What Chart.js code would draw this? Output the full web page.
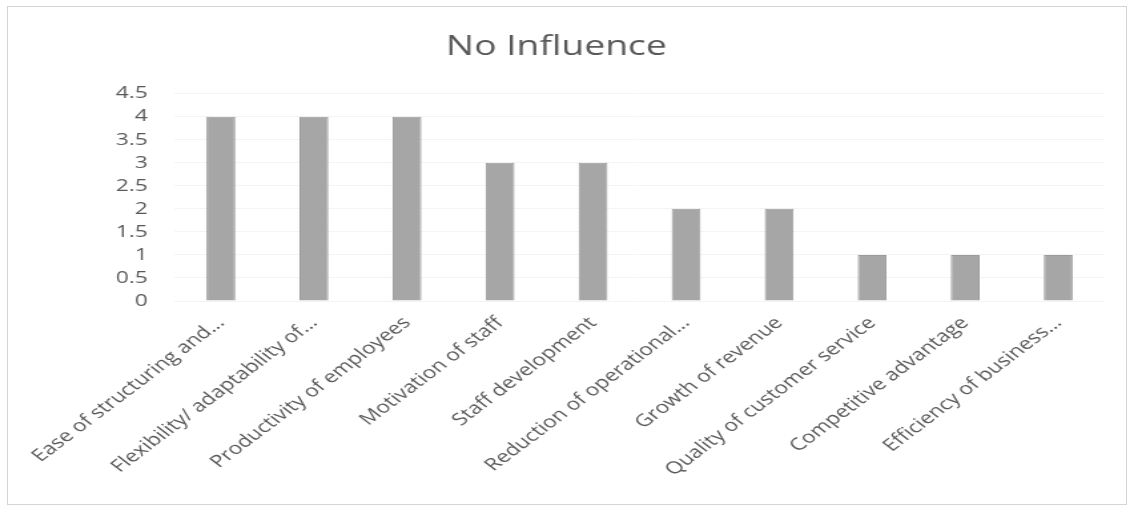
<!DOCTYPE html>
<html>
<head>
<meta charset="utf-8">
<script src="https://cdn.jsdelivr.net/npm/chart.js@4/dist/chart.umd.min.js"></script>
<style>
	body { margin: 0; background: #fff; }
	#wrap { position: absolute; left: 7px; top: 6px; width: 1120px; height: 499px; border: 1px solid #d4d4d4; box-sizing: border-box; overflow: hidden; background: #fff; }
	#box { position: absolute; left: 0; top: 0; width: 840px; height: 497px; transform: scaleX(1.331); transform-origin: 0 0; }
</style>
</head>
<body>
<div id="wrap"><div id="box"><canvas id="noInfChart"></canvas></div></div>
<script>
var categories = ["Ease of structuring and...", "Flexibility/ adaptability of...", "Productivity of employees", "Motivation of staff", "Staff development", "Reduction of operational...", "Growth of revenue", "Quality of customer service", "Competitive advantage", "Efficiency of business..."];
var counts = [4, 4, 4, 3, 3, 2, 2, 1, 1, 1];
var yTicks = [0, 0.5, 1, 1.5, 2, 2.5, 3, 3.5, 4, 4.5];

var txt = "#595959";

var conf_bar = {
	type: 'bar',
	data: {
		labels: categories,
		datasets: [{
			label: "No Influence",
			data: counts,
			backgroundColor: "#a6a6a6",
			borderColor: "#9a9a9a",
			borderWidth: 1,
			barPercentage: 0.31,
			categoryPercentage: 1
		}]
	},
	options: {
		responsive: true,
		maintainAspectRatio: false,
		animation: false,
		layout: { padding: { left: 0, right: 16, top: 0, bottom: 0 } },
		plugins: {
			legend: { display: false },
			tooltip: { enabled: false },
			title: {
				display: true,
				text: "No Influence",
				color: txt,
				font: { family: "Open Sans", size: 28, weight: 'normal' },
				padding: { top: 23, bottom: 30 }
			}
		},
		scales: {
			x: {
				grid: { display: false },
				border: { display: false },
				ticks: {
					color: txt,
					font: { family: "Open Sans", size: 17 },
					minRotation: 45,
					maxRotation: 45,
					autoSkip: false,
					padding: 4
				},
				afterFit: function(scale){ scale.height = 203; }
			},
			y: {
				min: yTicks[0],
				max: yTicks[yTicks.length - 1],
				grid: { color: "#f4f4f4", drawTicks: false },
				border: { display: false },
				ticks: {
					stepSize: yTicks[1] - yTicks[0],
					autoSkip: false,
					color: txt,
					font: { family: "Open Sans", size: 17 },
					padding: 20,
					callback: function(v){ return String(v); }
				},
				afterFit: function(scale){ scale.width = 125; }
			}
		}
	}
};

var ctx = document.getElementById("noInfChart").getContext("2d");
var bar_chart = new Chart(ctx, conf_bar);
</script>
</body>
</html>
